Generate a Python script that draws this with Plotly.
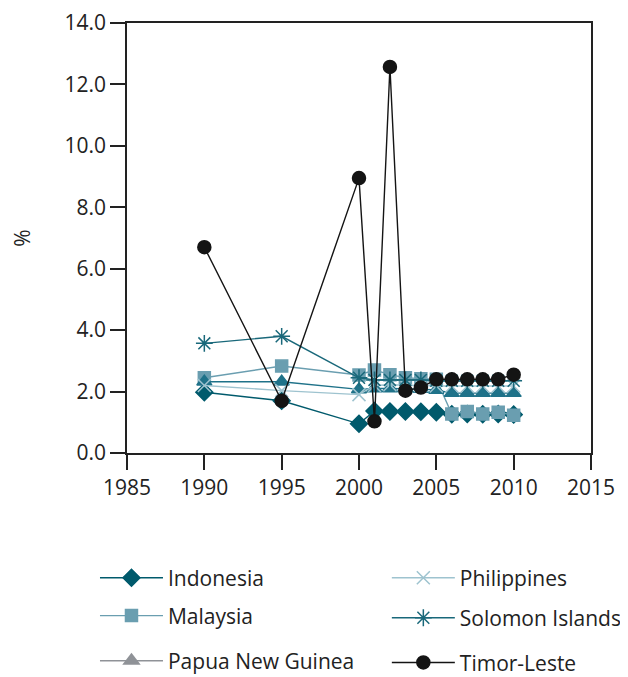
import plotly.graph_objects as go

years = [1990, 1995, 2000, 2001, 2002, 2003, 2004, 2005, 2006, 2007, 2008, 2009, 2010]

indonesia = [1.98, 1.70, 0.95, 1.37, 1.35, 1.35, 1.34, 1.33, 1.26, 1.27, 1.26, 1.27, 1.25]
malaysia = [2.45, 2.83, 2.54, 2.70, 2.55, 2.45, 2.42, 2.40, 1.27, 1.35, 1.27, 1.33, 1.23]
png = [2.32, 2.32, 2.07, 2.10, 2.10, 2.10, 2.08, 2.05, 1.95, 1.95, 1.95, 1.95, 1.95]
philippines = [2.20, 2.03, 1.90, 2.20, 2.22, 2.20, 2.20, 2.18, 2.18, 2.18, 2.18, 2.18, 2.18]
solomon = [3.57, 3.80, 2.45, 2.38, 2.38, 2.38, 2.38, 2.35, 2.35, 2.35, 2.35, 2.35, 2.35]
timor = [6.70, 1.70, 8.95, 1.03, 12.57, 2.03, 2.13, 2.40, 2.40, 2.40, 2.40, 2.40, 2.55]

x_ticks = [1985, 1990, 1995, 2000, 2005, 2010, 2015]
y_ticks = [0, 2, 4, 6, 8, 10, 12, 14]

FONT = "Open Sans"
FS = 22

fig = go.Figure()

slots = {
    "legend": (-0.069, -0.291),
    "legend2": (-0.069, -0.379),
    "legend3": (-0.069, -0.484),
    "legend4": (0.560, -0.291),
    "legend5": (0.560, -0.384),
    "legend6": (0.560, -0.488),
}

def add(name, y, color, symbol, size, leg, lw=1.4, legend_color=None):
    fig.add_trace(go.Scatter(
        x=years, y=y, mode="lines+markers", name=name,
        line=dict(color=color, width=lw),
        marker=dict(symbol=symbol, size=size, color=color,
                    line=dict(color=color, width=1.5)),
        showlegend=legend_color is None, legend=leg,
    ))
    if legend_color is not None:
        fig.add_trace(go.Scatter(
            x=[None], y=[None], mode="lines+markers", name=name,
            line=dict(color=legend_color, width=lw),
            marker=dict(symbol=symbol, size=16, color=legend_color),
            showlegend=True, legend=leg,
        ))

add("Indonesia", indonesia, "#005a6c", "diamond", 13, "legend")
add("Malaysia", malaysia, "#6a9eb0", "square", 12, "legend2")
add("Papua New Guinea", png, "#1f7289", "triangle-up", 13, "legend3", legend_color="#8f9297")
add("Philippines", philippines, "#9ec3cf", "x-thin-open", 13, "legend4")
add("Solomon Islands", solomon, "#19687a", "asterisk-open", 14, "legend5")
add("Timor-Leste", timor, "#141414", "circle", 13, "legend6")

legend_common = dict(xanchor="left", yanchor="middle", itemwidth=63,
                     font=dict(size=FS - 1, family=FONT, color="#222"),
                     bgcolor="rgba(0,0,0,0)")
layout_legends = {}
for k, (lx, ly) in slots.items():
    layout_legends[k] = dict(x=lx, y=ly, **legend_common)

fig.update_layout(
    width=620, height=669,
    margin=dict(l=119, r=37, t=15, b=224, autoexpand=False),
    paper_bgcolor="white", plot_bgcolor="white",
    font=dict(family=FONT, size=FS, color="#222"),
    showlegend=True,
    **layout_legends,
)
fig.update_xaxes(range=[1985, 2015], tickvals=x_ticks, ticktext=[str(v) for v in x_ticks],
                 showgrid=False, zeroline=False, showline=True, linecolor="#222", linewidth=1.5,
                 mirror=True, ticks="outside", ticklen=15, tickcolor="#222", tickwidth=1.5,
                 tickfont=dict(size=FS - 1))
fig.update_yaxes(range=[0, 14], tickvals=y_ticks, ticktext=[f"{v:.1f}" for v in y_ticks],
                 showgrid=False, zeroline=False, showline=True, linecolor="#222", linewidth=1.5,
                 mirror=True, ticks="outside", ticklen=15, tickcolor="#222", tickwidth=1.5,
                 tickfont=dict(size=FS - 1),
                 title=dict(text="%", font=dict(size=FS - 1), standoff=36))

fig.write_html("out.html")
